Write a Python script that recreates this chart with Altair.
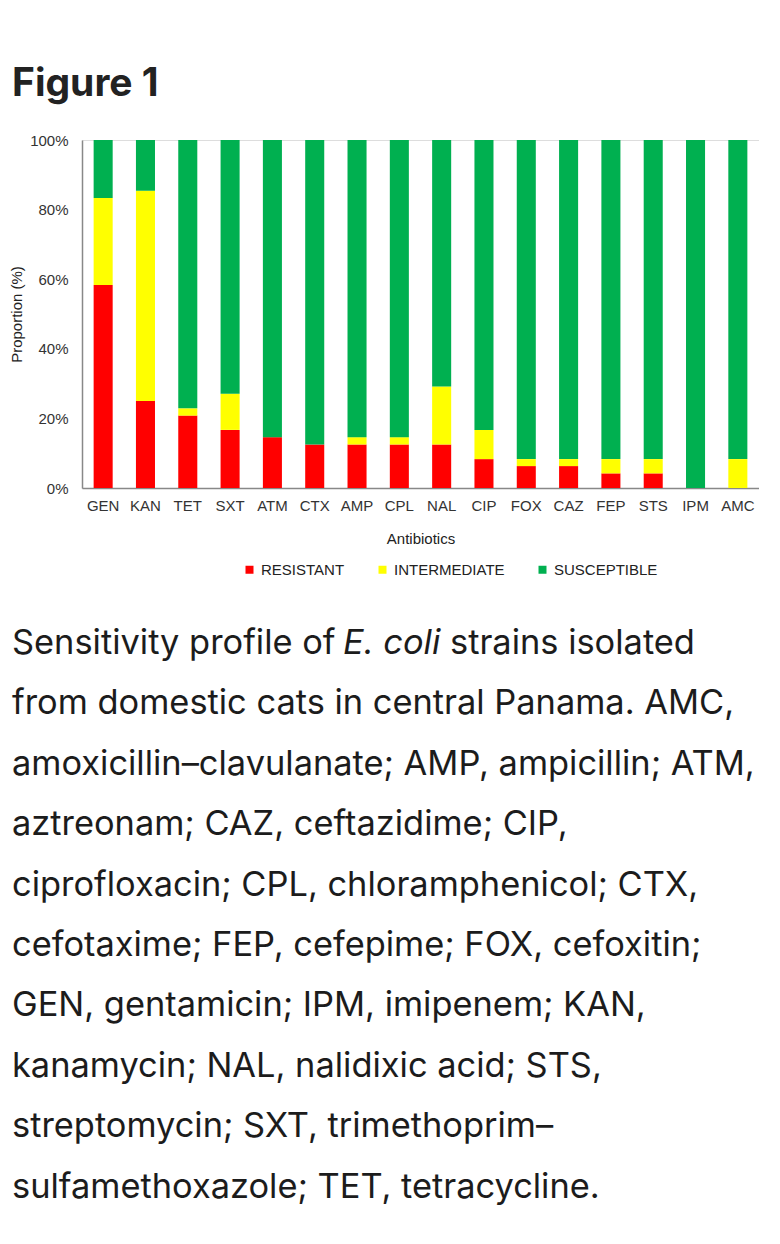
import altair as alt
import pandas as pd

antibiotics = ["GEN", "KAN", "TET", "SXT", "ATM", "CTX", "AMP", "CPL",
               "NAL", "CIP", "FOX", "CAZ", "FEP", "STS", "IPM", "AMC"]
resistant = [58.3, 25.0, 20.8, 16.7, 14.6, 12.5, 12.5, 12.5,
             12.5, 8.3, 6.3, 6.3, 4.2, 4.2, 0.0, 0.0]
intermediate = [25.0, 60.4, 2.1, 10.4, 0.0, 0.0, 2.1, 2.1,
                16.7, 8.4, 2.0, 2.0, 4.1, 4.1, 0.0, 8.3]
susceptible = [16.7, 14.6, 77.1, 72.9, 85.4, 87.5, 85.4, 85.4,
               70.8, 83.3, 91.7, 91.7, 91.7, 91.7, 100.0, 91.7]
categories = ["RESISTANT", "INTERMEDIATE", "SUSCEPTIBLE"]
colors = ["#FF0000", "#FFFF00", "#00B050"]
y_ticks = [0, 20, 40, 60, 80, 100]

fig_title = "Figure 1"
caption_line1 = ["Sensitivity profile of", "E. coli", "strains isolated"]
caption_lines = [
    "from domestic cats in central Panama. AMC,",
    "amoxicillin\u2013clavulanate; AMP, ampicillin; ATM,",
    "aztreonam; CAZ, ceftazidime; CIP,",
    "ciprofloxacin; CPL, chloramphenicol; CTX,",
    "cefotaxime; FEP, cefepime; FOX, cefoxitin;",
    "GEN, gentamicin; IPM, imipenem; KAN,",
    "kanamycin; NAL, nalidixic acid; STS,",
    "streptomycin; SXT, trimethoprim\u2013",
    "sulfamethoxazole; TET, tetracycline.",
]

rows = []
for i, a in enumerate(antibiotics):
    for k, (cat, vals) in enumerate(zip(categories, [resistant, intermediate, susceptible])):
        rows.append({"antibiotic": a, "status": cat, "value": vals[i], "order": k})
df = pd.DataFrame(rows)

AXFONT = "Liberation Sans"
CAPFONT = "Inter"
FS = 15

bars = alt.Chart(df).mark_bar().encode(
    x=alt.X("antibiotic:N", sort=antibiotics,
            scale=alt.Scale(paddingInner=0.55, paddingOuter=0.275),
            axis=alt.Axis(title="Antibiotics", labelAngle=0, ticks=False,
                          domainColor="#888888", domainWidth=1.5,
                          labelFont=AXFONT, labelFontSize=FS, labelColor="#333333",
                          labelPadding=10, titleFont=AXFONT, titleFontSize=FS,
                          titleFontWeight="normal", titleColor="#222222",
                          titlePadding=18)),
    y=alt.Y("value:Q", stack="zero",
            scale=alt.Scale(domain=[0, 100], nice=False),
            axis=alt.Axis(title="Proportion (%)", values=y_ticks, ticks=False, grid=False,
                          labelExpr="datum.value + '%'",
                          domainColor="#888888", domainWidth=1.5,
                          labelFont=AXFONT, labelFontSize=FS, labelColor="#333333",
                          labelPadding=14, titleFont=AXFONT, titleFontSize=FS,
                          titleFontWeight="normal", titleColor="#222222",
                          titleX=-66, titleY=174, titleBaseline="middle")),
    color=alt.Color("status:N", sort=categories,
                    scale=alt.Scale(domain=categories, range=colors),
                    legend=alt.Legend(title=None, orient="none", direction="horizontal",
                                      legendX=160, legendY=422,
                                      symbolType="square", symbolSize=64,
                                      symbolStrokeWidth=0, labelOffset=4,
                                      labelFont=AXFONT, labelFontSize=FS,
                                      labelColor="#222222", columnPadding=30)),
    order=alt.Order("order:Q", sort="ascending"),
)

layers = [bars]

title_mark = alt.Chart(pd.DataFrame({"t": [fig_title]})).mark_text(
    font=CAPFONT, fontSize=39, fontWeight="bold", color="#222222",
    align="left", baseline="alphabetic"
).encode(text="t:N", x=alt.value(-70), y=alt.value(-44))
layers.append(title_mark)

CAPFS = 34.4
line_h = 60.4
base_y = 514
seg_x = [-70, 261, 368]
for j, seg in enumerate(caption_line1):
    m = alt.Chart(pd.DataFrame({"t": [seg]})).mark_text(
        font=CAPFONT, fontSize=CAPFS, color="#1c1c1c", align="left",
        baseline="alphabetic", fontStyle="italic" if j == 1 else "normal"
    ).encode(text="t:N", x=alt.value(seg_x[j]), y=alt.value(base_y))
    layers.append(m)

for i, line in enumerate(caption_lines):
    m = alt.Chart(pd.DataFrame({"t": [line]})).mark_text(
        font=CAPFONT, fontSize=CAPFS, color="#1c1c1c", align="left",
        baseline="alphabetic"
    ).encode(text="t:N", x=alt.value(-70), y=alt.value(base_y + (i + 1) * line_h))
    layers.append(m)

chart = alt.layer(*layers).properties(
    width=677, height=348,
    padding={"left": 1, "top": 57, "right": 0, "bottom": 24},
).configure_view(stroke=None).configure(background="white")

chart.save("out.html", embed_options={"renderer": "svg", "actions": False})
